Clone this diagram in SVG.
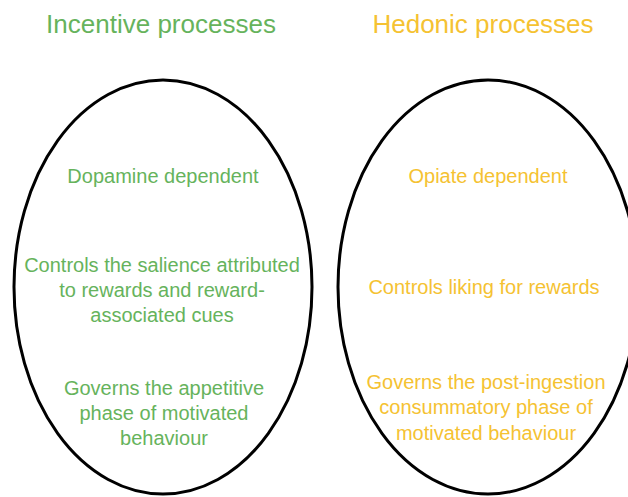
<svg xmlns="http://www.w3.org/2000/svg" width="628" height="497" viewBox="0 0 628 497">
<style>
.ell{fill:none;stroke:#000;stroke-width:3}
.t{font-family:"Liberation Sans",Arial,sans-serif;text-anchor:middle}
.title{font-size:26px}
.body{font-size:20px}
.g{fill:#66b35c}
.y{fill:#f5c232}
</style>
<rect width="628" height="497" fill="#fff"/>
<g id="incentive">
<text class="t title g" x="161" y="33">Incentive processes</text>
<ellipse class="ell" cx="163" cy="287" rx="149" ry="207"/>
<text class="t body g" x="163" y="183">Dopamine dependent</text>
<text class="t body g" x="162" y="272">Controls the salience attributed</text>
<text class="t body g" x="162" y="297">to rewards and reward-</text>
<text class="t body g" x="162" y="322">associated cues</text>
<text class="t body g" x="164" y="395">Governs the appetitive</text>
<text class="t body g" x="164" y="420">phase of motivated</text>
<text class="t body g" x="164" y="445">behaviour</text>
</g>
<g id="hedonic">
<text class="t title y" x="483" y="33">Hedonic processes</text>
<ellipse class="ell" cx="488" cy="287" rx="150" ry="207"/>
<text class="t body y" x="488" y="183">Opiate dependent</text>
<text class="t body y" x="484" y="294">Controls liking for rewards</text>
<text class="t body y" x="486" y="389">Governs the post-ingestion</text>
<text class="t body y" x="486" y="414">consummatory phase of</text>
<text class="t body y" x="486" y="440">motivated behaviour</text>
</g>
<g id="connectors"/>
</svg>
